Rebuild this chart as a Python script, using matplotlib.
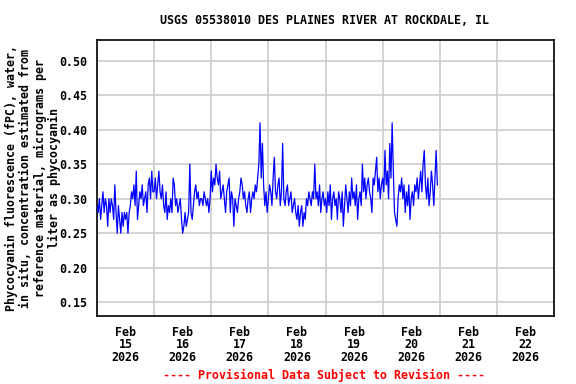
import matplotlib
matplotlib.use('Agg')
import matplotlib.pyplot as plt
import matplotlib.dates as mdates
from matplotlib.ticker import MultipleLocator, FormatStrFormatter
import numpy as np
import pandas as pd

title = 'USGS 05538010 DES PLAINES RIVER AT ROCKDALE, IL'
ylabel = ('Phycocyanin fluorescence (fPC), water,\n'
          'in situ, concentration estimated from\n'
          'reference material, micrograms per\n'
          'liter as phycocyanin')
footer = '---- Provisional Data Subject to Revision ----'

start = '2026-02-15 00:00'
step = '30min'

# phycocyanin, ug/L, half-hourly readings
feb15 = [0.29, 0.28, 0.30, 0.27, 0.29, 0.31, 0.28, 0.30, 0.29, 0.26, 0.30, 0.28,
         0.30, 0.29, 0.27, 0.32, 0.28, 0.25, 0.29, 0.27, 0.25, 0.28, 0.26, 0.28,
         0.27, 0.28, 0.25, 0.28, 0.29, 0.31, 0.30, 0.32, 0.29, 0.34, 0.27, 0.29,
         0.31, 0.30, 0.32, 0.29, 0.30, 0.31, 0.28, 0.32, 0.33, 0.30, 0.34, 0.31]
feb16 = [0.31, 0.33, 0.30, 0.32, 0.34, 0.31, 0.30, 0.32, 0.29, 0.28, 0.31, 0.27,
         0.29, 0.28, 0.30, 0.28, 0.33, 0.32, 0.29, 0.30, 0.28, 0.29, 0.30, 0.27,
         0.25, 0.26, 0.28, 0.26, 0.27, 0.28, 0.35, 0.28, 0.27, 0.29, 0.31, 0.32,
         0.30, 0.31, 0.29, 0.30, 0.30, 0.29, 0.31, 0.30, 0.29, 0.30, 0.28, 0.30]
feb17 = [0.34, 0.31, 0.33, 0.32, 0.35, 0.33, 0.32, 0.34, 0.30, 0.31, 0.32, 0.30,
         0.28, 0.31, 0.32, 0.33, 0.28, 0.31, 0.30, 0.26, 0.30, 0.29, 0.28, 0.30,
         0.31, 0.33, 0.32, 0.30, 0.31, 0.29, 0.28, 0.30, 0.31, 0.28, 0.30, 0.31,
         0.30, 0.32, 0.31, 0.33, 0.35, 0.41, 0.33, 0.38, 0.32, 0.29, 0.31, 0.28]
feb18 = [0.30, 0.32, 0.31, 0.29, 0.33, 0.36, 0.31, 0.30, 0.32, 0.33, 0.29, 0.31,
         0.38, 0.30, 0.29, 0.31, 0.32, 0.29, 0.30, 0.31, 0.28, 0.29, 0.30, 0.28,
         0.27, 0.29, 0.26, 0.28, 0.29, 0.26, 0.28, 0.27, 0.30, 0.29, 0.31, 0.30,
         0.29, 0.31, 0.30, 0.35, 0.30, 0.31, 0.29, 0.32, 0.28, 0.30, 0.31, 0.29]
feb19 = [0.30, 0.28, 0.31, 0.29, 0.32, 0.27, 0.30, 0.31, 0.29, 0.30, 0.27, 0.31,
         0.30, 0.28, 0.31, 0.26, 0.29, 0.32, 0.30, 0.28, 0.31, 0.29, 0.33, 0.30,
         0.31, 0.29, 0.32, 0.27, 0.30, 0.31, 0.29, 0.35, 0.31, 0.33, 0.30, 0.32,
         0.33, 0.31, 0.30, 0.28, 0.33, 0.32, 0.34, 0.36, 0.31, 0.33, 0.30, 0.32]
feb20 = [0.33, 0.31, 0.37, 0.32, 0.34, 0.30, 0.38, 0.33, 0.41, 0.34, 0.28, 0.27,
         0.26, 0.30, 0.32, 0.31, 0.33, 0.30, 0.32, 0.28, 0.31, 0.29, 0.32, 0.27,
         0.30, 0.31, 0.29, 0.32, 0.31, 0.33, 0.30, 0.32, 0.34, 0.31, 0.35, 0.37,
         0.32, 0.30, 0.33, 0.29, 0.31, 0.34, 0.32, 0.29, 0.33, 0.37, 0.32]

values = feb15 + feb16 + feb17 + feb18 + feb19 + feb20
times = pd.date_range(start, periods=len(values), freq=step)

xmin = pd.Timestamp('2026-02-15 00:00')
xmax = pd.Timestamp('2026-02-23 00:00')
ymin, ymax = 0.13, 0.53

font = ['DejaVu Sans Mono']
fs = 8.4


def main():
    plt.rcParams['font.family'] = font
    plt.rcParams['font.weight'] = 'bold'

    fig = plt.figure(figsize=(5.76, 3.84), dpi=100)
    ax = fig.add_axes([97 / 576, 1 - 316 / 384, 457 / 576, 276 / 384])

    ax.plot(times, values, color='#0000ff', lw=0.9, zorder=3)

    ax.set_xlim(xmin, xmax)
    ax.set_ylim(ymin, ymax)

    # gridlines at midnight, day labels centred at noon
    ax.xaxis.set_major_locator(mdates.DayLocator())
    ax.xaxis.set_major_formatter(plt.NullFormatter())
    ax.xaxis.set_minor_locator(mdates.HourLocator(byhour=12))
    ax.xaxis.set_minor_formatter(mdates.DateFormatter('%b\n%d\n%Y'))
    ax.yaxis.set_major_locator(MultipleLocator(0.05))
    ax.yaxis.set_major_formatter(FormatStrFormatter('%.2f'))

    ax.tick_params(axis='x', which='both', length=0, pad=7, labelsize=fs)
    ax.tick_params(axis='y', length=0, pad=7, labelsize=fs)
    for lab in ax.get_xticklabels(minor=True):
        lab.set_linespacing(0.95)
        lab.set_fontweight('bold')

    ax.grid(True, which='major', color='#cccccc', lw=1.2, zorder=0)
    for sp in ax.spines.values():
        sp.set_linewidth(1.2)
        sp.set_color('black')

    fig.text(33 / 576, 1 - 178 / 384, ylabel, rotation=90, ha='center', va='center',
             fontsize=fs, fontweight='bold', linespacing=1.1, multialignment='center')
    fig.text(325 / 576, 1 - 20 / 384, title, ha='center', va='center',
             fontsize=fs, fontweight='bold')
    fig.text(324 / 576, 1 - 375 / 384, footer, ha='center', va='center',
             fontsize=fs, fontweight='bold', color='#ff0000')

    fig.savefig('out.png', dpi=100)


if __name__ == '__main__':
    main()
